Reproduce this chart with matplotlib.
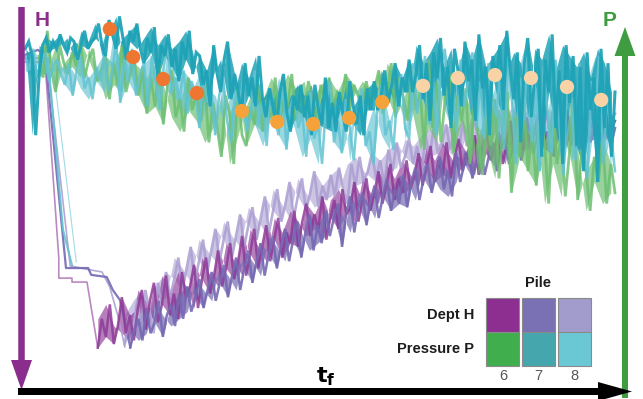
from __future__ import annotations

import matplotlib

matplotlib.use("Agg")
import matplotlib.pyplot as plt
import numpy as np
from matplotlib.patches import FancyArrow, Rectangle


W, H = 643, 399
OUTPUT = "out.png"

PILES = ["6", "7", "8"]

# Depth H (relative, 0 = surface) - start-up steps, then the noisy drive
H6_START_T = [0.7, 4.0, 6.3, 6.3, 8.5, 8.5, 11.0, 12.8]
H6_START = [11.7, 11.7, 66.1, 71.7, 71.7, 72.8, 72.8, 91.1]
H7_START_T = [0.7, 2.8, 4.0, 7.5, 11.2, 11.7, 14.3, 15.3, 16.5, 18.2]
H7_START = [9.7, 8.3, 9.7, 68.9, 68.9, 70.8, 71.4, 75.0, 77.8, 90.8]
H8_START_T = [0.7, 4.3, 8.2, 11.5, 13.5, 14.8, 16.2, 17.3]
H8_START = [10.6, 10.6, 68.3, 69.4, 70.0, 74.2, 82.5, 90.8]

H6_SPAN = (12.8, 99.0)
H6 = [
    91, 83, 88, 79, 90, 85, 77, 87, 82, 89,
    80, 75, 86, 78, 73, 84, 79, 71, 82, 76,
    83, 70, 77, 74, 68, 80, 72, 66, 76, 71,
    64, 74, 69, 62, 72, 67, 60, 71, 65, 58,
    69, 63, 57, 67, 61, 55, 66, 59, 62, 53,
    63, 56, 51, 60, 54, 58, 49, 61, 55, 50,
    58, 47, 54, 52, 45, 56, 50, 44, 53, 48,
    42, 51, 46, 40, 50, 44, 48, 39, 47, 43,
    37, 46, 41, 35, 45, 39, 43, 34, 44, 38,
    33, 42, 37, 40, 32, 43, 36, 30, 39, 35,
    31, 40, 34, 28, 37, 33, 36, 27, 35, 30,
    26, 34, 31, 36, 27, 33, 29, 25, 35, 30,
    27, 33, 28, 24, 32, 29, 34, 26, 31, 28,
]

H7_SPAN = (18.2, 99.0)
H7 = [
    91, 86, 83, 89, 80, 87, 84, 78, 88, 82,
    79, 85, 76, 83, 74, 81, 77, 72, 80, 75,
    70, 78, 73, 68, 77, 71, 66, 75, 69, 64,
    73, 67, 62, 71, 65, 60, 69, 63, 58, 67,
    61, 56, 66, 59, 54, 64, 57, 62, 53, 60,
    55, 51, 63, 54, 49, 59, 52, 48, 57, 50,
    46, 55, 49, 44, 53, 47, 51, 43, 52, 45,
    41, 50, 44, 40, 48, 43, 38, 47, 42, 49,
    37, 45, 40, 36, 44, 39, 35, 43, 38, 34,
    42, 36, 33, 40, 35, 31, 39, 34, 30, 37,
    32, 29, 36, 31, 38, 30, 28, 35, 31, 33,
    29, 36, 30, 34, 28, 33, 31, 27, 35, 30,
]

H8_SPAN = (17.3, 99.0)
H8 = [
    90, 82, 86, 78, 84, 75, 81, 87, 73, 79,
    70, 77, 72, 66, 75, 69, 63, 73, 67, 61,
    70, 64, 58, 67, 61, 56, 66, 60, 54, 63,
    57, 52, 61, 55, 49, 59, 53, 47, 56, 51,
    45, 55, 49, 44, 53, 48, 42, 52, 46, 50,
    43, 49, 41, 47, 51, 40, 46, 38, 45, 42,
    37, 44, 39, 46, 36, 42, 34, 41, 38, 33,
    40, 35, 43, 32, 38, 30, 37, 34, 29, 36,
    31, 38, 28, 35, 33, 27, 36, 30, 26, 34,
    29, 25, 33, 28, 31, 24, 30, 27, 32, 25,
    28, 33, 24, 30, 26, 31, 23, 29, 27, 32,
    25, 30, 27, 24, 31, 26, 29, 23, 28, 26,
]

# Pressure P (relative, 100 = top of scale)
P7_DROP_T = [4.5, 7.0, 8.5]
P7_DROP = [89.4, 41.7, 31.9]
P8_DROP_T = [5.2, 9.2]
P8_DROP = [88.9, 32.8]

P6_SPAN = (3.0, 99.0)
P6 = [
    90, 84, 97, 86, 80, 93, 88, 85, 91, 87,
    94, 84, 89, 92, 83, 86, 90, 78, 88, 82,
    93, 80, 85, 89, 79, 87, 74, 84, 76, 88,
    71, 82, 86, 73, 78, 69, 84, 75, 80, 72,
    83, 66, 77, 70, 62, 79, 74, 60, 81, 68,
    65, 76, 71, 82, 69, 78, 73, 84, 70, 80,
    76, 85, 72, 81, 74, 83, 78, 71, 82, 77,
    84, 76, 80, 78, 85, 75, 82, 79, 77, 83,
    76, 81, 86, 74, 79, 88, 73, 84, 78, 72,
    87, 75, 80, 64, 89, 70, 83, 66, 78, 85,
    63, 79, 72, 81, 60, 76, 68, 57, 74, 65,
    78, 56, 71, 80, 52, 73, 62, 77, 58, 69,
    54, 72, 66, 49, 75, 60, 68, 51, 63, 78,
    50, 64, 58, 47, 62, 55, 67, 49, 60, 52,
]

P7_SPAN = (0.7, 99.0)
P7 = [
    92, 94, 90, 68, 85, 93, 95, 91, 94, 92,
    96, 93, 91, 95, 94, 89, 93, 97, 92, 94,
    95, 99, 93, 90, 100, 96, 92, 101, 95, 89,
    97, 94, 99, 92, 88, 95, 91, 98, 84, 93,
    90, 96, 87, 92, 83, 94, 89, 97, 85, 91,
    90, 82, 86, 76, 93, 85, 80, 89, 94, 78,
    85, 80, 74, 88, 79, 84, 76, 90, 78, 73,
    81, 76, 70, 80, 85, 74, 69, 79, 75, 82,
    73, 79, 68, 82, 75, 71, 84, 70, 77, 69,
    80, 74, 69, 83, 76, 71, 79, 68, 81, 75,
    83, 75, 79, 86, 77, 82, 88, 76, 84, 80,
    89, 80, 85, 93, 78, 88, 72, 91, 84, 95,
    79, 87, 70, 92, 86, 76, 94, 83, 89, 72,
    96, 81, 87, 68, 90, 84, 93, 75, 97, 86,
    78, 91, 66, 88, 95, 73, 84, 92, 62, 89,
    80, 96, 70, 86, 60, 93, 77, 90, 65, 87,
    58, 91, 75, 84, 55, 92, 70, 88, 62, 80,
]

P8_SPAN = (0.7, 99.0)
P8 = [
    90, 86, 92, 84, 88, 91, 83, 87, 89, 85,
    82, 88, 79, 86, 90, 81, 84, 78, 87, 83,
    91, 80, 86, 94, 77, 89, 83, 92, 79, 85,
    88, 76, 90, 82, 75, 87, 93, 80, 84, 78,
    86, 74, 83, 80, 70, 85, 77, 81, 68, 79,
    84, 72, 66, 80, 76, 83, 69, 74, 86, 71,
    78, 65, 81, 73, 68, 84, 64, 76, 79, 70,
    74, 62, 80, 67, 71, 60, 77, 83, 66, 72,
    63, 78, 70, 61, 75, 81, 65, 69, 60, 76,
    82, 68, 72, 64, 79, 85, 70, 67, 88, 74,
    80, 90, 71, 84, 68, 87, 92, 75, 81, 69,
    89, 76, 85, 91, 70, 83, 67, 88, 79, 73,
    86, 64, 90, 77, 60, 84, 72, 92, 66, 81,
    58, 87, 74, 63, 89, 70, 57, 85, 78, 61,
    88, 66, 56, 83, 75, 90, 60, 79, 68, 58,
]

# Average pressure markers along the drive
DOT_T = [14.8, 18.7, 23.7, 29.3, 36.8, 42.7, 48.7, 54.7, 60.2, 67.0, 72.8, 79.0, 85.0, 91.0, 96.7]
DOT_P = [97.5, 89.7, 83.6, 79.7, 74.7, 71.7, 71.1, 72.8, 77.2, 81.7, 83.9, 84.7, 83.9, 81.4, 77.8]
DOT_COLORS = ["#ef7631"] * 4 + ["#f6a23a"] * 5 + ["#f9d3a6"] * 6

DEPTH_COLORS = ["#8c2f91", "#7a70b4", "#a19ccb"]
PRESSURE_COLORS = ["#41ae4e", "#46a6ae", "#6ac8d4"]

LINE_H = ["#8e3a97", "#7568b2", "#ab9fd2"]
LINE_P = ["#6dbf72", "#1fa3b7", "#62c3d2"]


def span(bounds: tuple[float, float], values: list[float]) -> np.ndarray:
    return np.linspace(bounds[0], bounds[1], len(values))


def trace(ax, bounds, values, color, lw, alpha, fill):
    # shaded band between successive samples, the record on top
    t = span(bounds, values)
    v = np.asarray(values, dtype=float)
    ax.fill_between(t[0::2], v[0::2], v[1::2], color=color, alpha=fill, lw=0)
    ax.plot(t, v, color=color, lw=lw, alpha=alpha, solid_joinstyle="miter")


def draw_series(ax_h, ax_p) -> None:
    # depth: start-up steps (thin) and the driving record
    ax_h.plot(H6_START_T, H6_START, color=LINE_H[0], lw=1.2, alpha=0.6)
    ax_h.plot(H8_START_T, H8_START, color=LINE_H[2], lw=1.2, alpha=0.9)
    ax_h.plot(H7_START_T, H7_START, color=LINE_H[1], lw=1.6, alpha=0.9)
    trace(ax_h, H8_SPAN, H8, LINE_H[2], 1.9, 0.85, 0.6)
    trace(ax_h, H6_SPAN, H6, LINE_H[0], 1.8, 0.85, 0.65)
    trace(ax_h, H7_SPAN, H7, LINE_H[1], 1.8, 0.9, 0.7)

    ax_p.plot(P8_DROP_T, P8_DROP, color=LINE_P[2], lw=0.8, alpha=0.6)
    ax_p.plot(P7_DROP_T, P7_DROP, color=LINE_P[2], lw=1.5, alpha=0.9)
    trace(ax_p, P6_SPAN, P6, LINE_P[0], 2.0, 0.85, 0.7)
    trace(ax_p, P8_SPAN, P8, LINE_P[2], 1.8, 0.85, 0.65)
    trace(ax_p, P7_SPAN, P7, LINE_P[1], 2.2, 0.95, 0.85)
    ax_p.scatter(DOT_T, DOT_P, s=105, c=DOT_COLORS, zorder=5, linewidths=0)


def draw_frame(fig) -> None:
    over = fig.add_axes([0, 0, 1, 1], facecolor="none")
    over.set_xlim(0, W)
    over.set_ylim(H, 0)
    over.axis("off")

    purple, green = "#8a2d8c", "#3f9c40"
    over.add_patch(FancyArrow(21.5, 7, 0, 383, width=6.5, head_width=21, head_length=30,
                              length_includes_head=True, color=purple, lw=0))
    over.add_patch(FancyArrow(625, 398, 0, -371, width=6, head_width=21, head_length=29,
                              length_includes_head=True, color=green, lw=0))
    over.add_patch(FancyArrow(18, 391.5, 614, 0, width=7, head_width=19, head_length=34,
                              length_includes_head=True, color="black", lw=0))

    font = "Liberation Sans"
    over.text(42, 21, "H", color=purple, fontsize=15, fontweight="bold", family=font,
              ha="center", va="center")
    over.text(610, 20, "P", color=green, fontsize=15, fontweight="bold", family=font,
              ha="center", va="center")
    over.text(326, 377, r"$\mathbf{t_f}$", fontsize=16, ha="center", va="center")


def draw_legend(fig) -> None:
    lg = fig.add_axes([485 / W, (H - 366) / H, 107 / W, 68 / H], facecolor="none")
    lg.set_xlim(0, 3)
    lg.set_ylim(2, 0)
    lg.axis("off")
    for col in range(3):
        for row, colors in enumerate([DEPTH_COLORS, PRESSURE_COLORS]):
            lg.add_patch(Rectangle((col + 0.04, row), 0.92, 1, facecolor=colors[col],
                                   edgecolor="#8a8a8a", lw=0.8, clip_on=False))
        lg.text(col + 0.5, 2.3, PILES[col], ha="center", va="center", fontsize=10.5,
                color="#555555", family="Liberation Sans")

    bold = dict(fontsize=10.5, fontweight="bold", family="Liberation Sans", color="#1c1c1c")
    lg.text(1.5, -0.45, "Pile", ha="center", va="center", **bold)
    lg.text(-0.3, 0.5, "Dept H", ha="right", va="center", **bold)
    lg.text(-0.3, 1.5, "Pressure P", ha="right", va="center", **bold)


def main() -> None:
    fig = plt.figure(figsize=(W / 100, H / 100), dpi=100)
    ax_h = fig.add_axes([0, 0, 1, 1])
    ax_p = ax_h.twinx()

    # time axis: t=0 at px 21, t=100 at px 621
    ax_h.set_xlim(-21 / 6, (W - 21) / 6)
    # depth grows downward: h=0 at px 20, h=100 at px 380
    ax_h.set_ylim((H - 20) / 3.6, -20 / 3.6)
    # pressure grows upward: p=0 at px 380, p=100 at px 20
    ax_p.set_ylim(-(H - 380) / 3.6, 380 / 3.6)
    for ax in (ax_h, ax_p):
        ax.axis("off")

    draw_series(ax_h, ax_p)
    draw_frame(fig)
    draw_legend(fig)

    fig.savefig(OUTPUT, dpi=100)
    plt.close(fig)


if __name__ == "__main__":
    main()
